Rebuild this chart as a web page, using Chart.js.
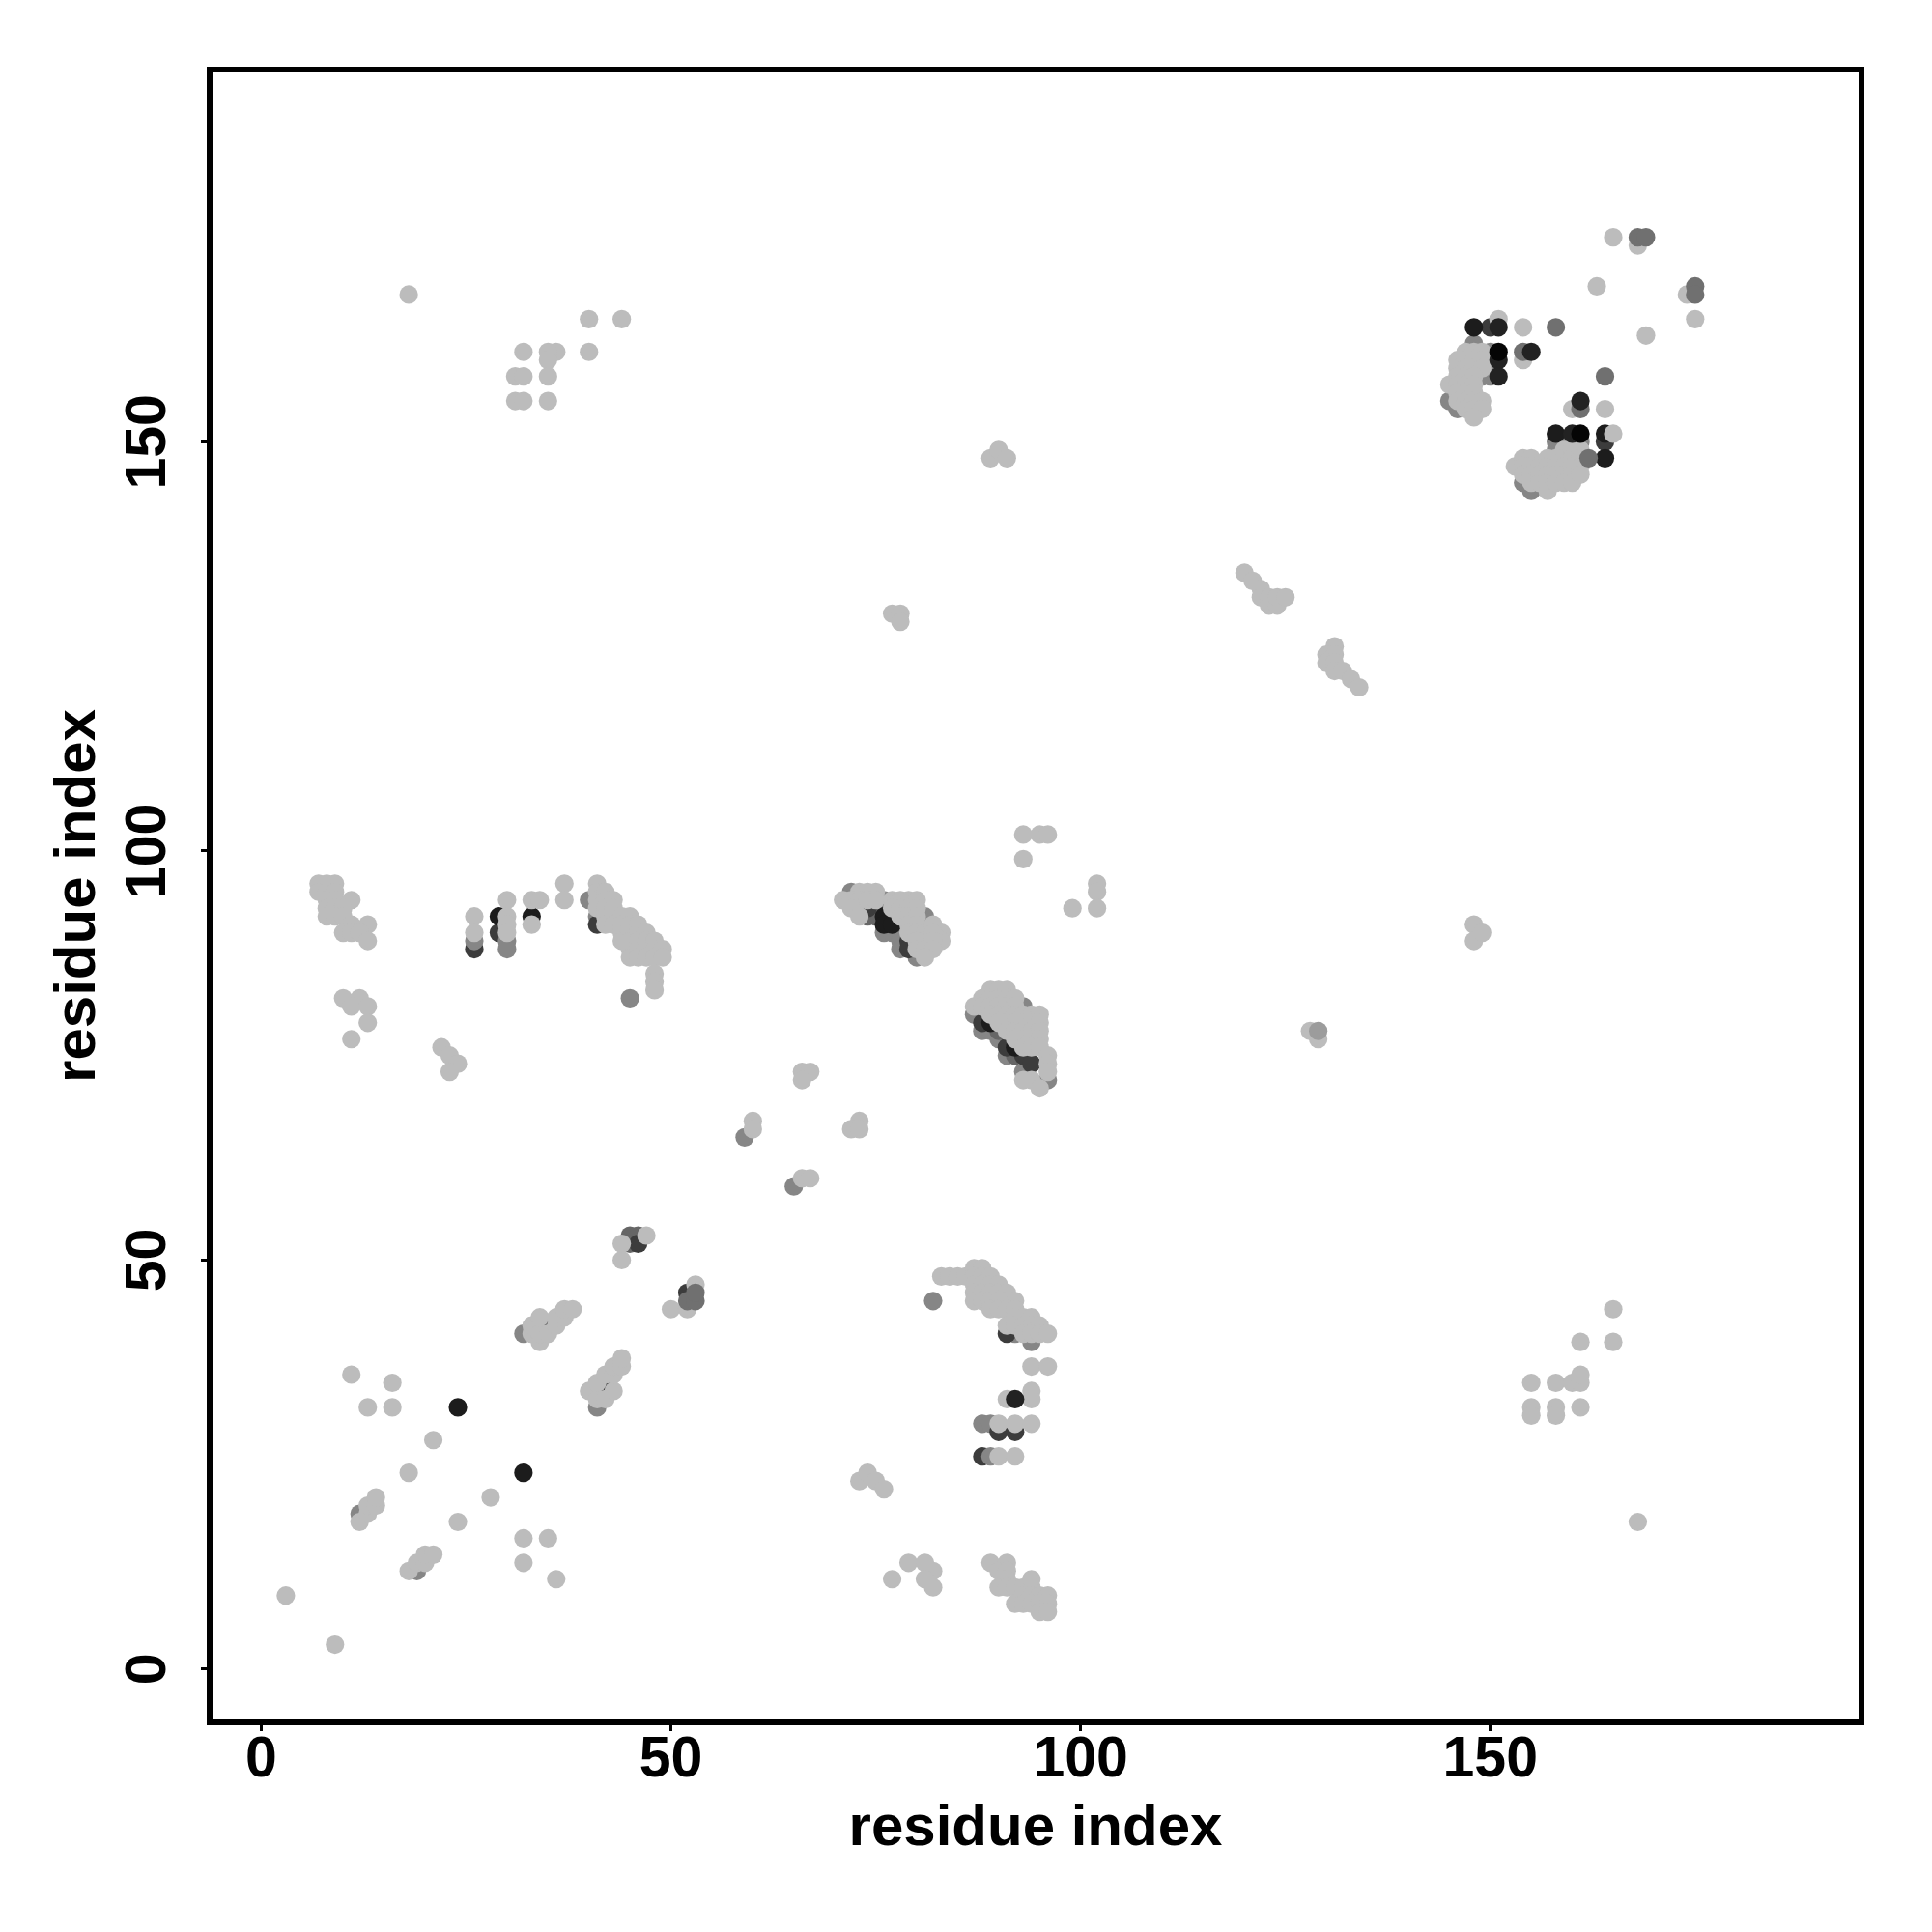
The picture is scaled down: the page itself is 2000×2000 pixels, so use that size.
<!DOCTYPE html>
<html>
<head>
<meta charset="utf-8">
<style>body{margin:0;background:#fff}</style>
<script src="https://cdn.jsdelivr.net/npm/chart.js@4"></script>
</head>
<body>
<canvas id="myChart" width="2000" height="2000"></canvas>
<script>
// contact map as [residue, residue], one list per grey tone
let tickValues = [0, 50, 100, 150];
let axisTitle = "residue index";

let underDarkPts = [[26,88],[88,26],[29,90]];
let grayPts = [[12,19],[19,12],[32,41],[41,32],[26,89],[30,89],[30,88],[40,94],[41,92],[45,82],[59,65],[65,59],[82,45],[92,41],[94,40],[88,30],[89,30],[89,26],[72,95],[76,94],[81,92],[80,87],[76,90],[77,90],[78,89],[78,88],[93,81],[87,80],[88,78],[89,78],[90,77],[91,75],[93,73],[96,72],[145,155],[146,154],[148,162],[150,161],[150,160],[149,158],[150,158],[154,145],[155,144],[158,150],[159,150],[161,150],[158,149]];
let darkGrayPts = [[45,53],[46,53],[45,52],[74,92],[75,93],[75,92],[90,78],[92,75]];
let darkPts = [[41,91],[35,42],[42,35],[46,52],[52,46],[91,41],[90,29],[92,29],[150,164],[164,150],[79,89],[79,88],[74,93],[88,79],[91,76],[93,75],[94,74]];
let blackPts = [[24,32],[32,24],[29,92],[33,92],[148,164],[158,151],[164,151],[164,148],[76,92],[76,91],[77,91],[89,79],[92,76]];

let lightPts = [
  [3,9],[9,3],[11,36],[16,35],[13,32],[16,32],[21,28],[18,24],[28,21],[24,18],[32,16],[35,16],[32,13],[36,11],
  [12,18],[13,19],[13,20],[14,20],[14,21],[18,12],[19,13],[20,13],[20,14],[21,14],
  [33,41],[33,42],[34,40],[34,41],[34,43],[35,41],[36,42],[36,43],[37,43],[37,44],[38,44],
  [40,34],[41,33],[41,35],[42,33],[42,36],[43,34],[43,36],[43,37],[44,37],[44,38],
  [44,50],[44,52],[47,53],[50,44],[52,44],[53,47],
  [77,11],[79,13],[81,13],[82,12],[81,11],[82,10],[73,23],[74,24],[75,23],[76,22],
  [83,48],[84,48],[85,48],[86,48],[87,49],[88,49],[87,48],[88,48],[89,48],[87,47],[88,47],[89,47],[90,47],
  [87,46],[88,46],[89,46],[90,46],[91,46],[87,45],[88,45],[89,45],[90,45],[91,45],[92,45],[89,44],[90,44],[91,44],[92,44],
  [92,43],[93,43],[94,43],[91,42],[92,42],[93,42],[94,42],[95,42],[93,41],[94,41],[95,41],[96,41],
  [94,37],[96,37],[94,34],[94,33],[91,33],[90,30],[92,30],[94,30],[90,26],[92,26],
  [89,13],[91,13],[90,12],[91,12],[91,11],[90,10],[91,10],[92,10],[93,10],[94,10],[94,11],[93,9],[94,9],[95,9],[96,9],
  [92,8],[93,8],[94,8],[95,8],[96,8],[95,7],[96,7],
  [155,35],[158,35],[160,35],[161,35],[161,36],[155,32],[155,31],[158,32],[158,31],[161,32],[161,40],[165,40],[165,44],[168,18],
  [7,96],[8,96],[9,96],[7,95],[8,95],[9,95],[8,94],[9,94],[11,94],[8,93],[9,93],[10,93],[8,92],[9,92],[10,92],[11,91],[13,91],[10,90],[11,90],[12,90],[13,89],
  [10,82],[12,82],[11,81],[13,81],[13,79],[11,77],[22,76],[23,75],[24,74],[23,73],
  [26,92],[26,90],[30,94],[30,92],[30,91],[30,90],[33,94],[34,94],[33,91],[37,96],[37,94],
  [41,96],[41,95],[41,94],[41,93],[42,95],[42,94],[42,93],[42,92],[42,91],[43,94],[43,93],[43,92],[43,91],
  [44,92],[44,91],[44,90],[44,89],[45,92],[45,91],[45,90],[45,89],[45,88],[45,87],[46,91],[46,90],[46,89],[46,88],[46,87],
  [47,90],[47,89],[47,88],[47,87],[48,89],[48,88],[48,87],[49,88],[49,87],[48,85],[48,84],[48,83],
  [60,67],[60,66],[66,73],[67,73],[66,72],[73,67],[72,66],[73,66],[66,60],[67,60],
  [71,94],[73,95],[74,95],[75,95],[72,94],[73,94],[72,93],[73,92],[74,94],[75,94],
  [77,94],[78,94],[79,94],[80,94],[77,93],[78,93],[79,93],[80,93],[78,92],[79,92],[80,92],[79,91],[80,91],
  [79,90],[80,90],[81,90],[80,89],[81,89],[80,88],[81,88],[82,91],[83,90],[83,89],[82,90],[82,89],[82,88],[81,87],
  [87,81],[88,82],[88,81],[89,83],[89,82],[89,81],[90,83],[90,82],[90,81],[91,83],[91,82],[91,81],[92,82],[92,81],
  [89,80],[90,80],[91,80],[92,80],[93,80],[94,80],[95,80],[90,79],[91,79],[92,79],[93,79],[94,79],[95,79],
  [91,78],[92,78],[93,78],[94,78],[95,78],[92,77],[93,77],[94,77],[95,77],[93,76],[94,76],[95,76],[96,75],[96,74],[96,73],[94,72],[95,71],[93,72],
  [18,168],[32,161],[36,161],[35,161],[35,160],[31,158],[32,158],[35,158],[31,155],[32,155],[35,155],[40,161],[40,165],[44,165],
  [89,148],[90,149],[91,148],[120,134],[121,133],[122,132],[122,131],[123,131],[123,130],[124,130],[124,131],[125,131],
  [77,129],[78,129],[78,128],[131,125],[130,124],[131,124],[130,123],[131,123],[131,122],[132,122],[133,121],[134,120],
  [93,102],[95,102],[96,102],[93,99],[102,96],[102,95],[102,93],[99,93],[148,91],[148,89],[149,90],[128,78],[129,77],
  [165,175],[168,174],[163,169],[174,168],[175,165],[169,163],[160,154],[164,154],[151,165],[154,164],[154,160],[165,151],
  [147,161],[148,161],[149,161],[146,160],[147,160],[148,160],[149,160],[146,159],[147,159],[148,159],[149,159],
  [146,158],[147,158],[148,158],[145,157],[146,157],[147,157],[148,157],[146,156],[147,156],[148,156],
  [146,155],[147,155],[148,155],[149,155],[147,154],[148,154],[149,154],[148,153],
  [153,147],[154,148],[155,148],[154,147],[155,147],[154,146],[155,146],[155,145],[156,147],[156,146],[156,145],
  [157,148],[157,147],[157,146],[157,145],[157,144],[158,148],[158,147],[158,146],[158,145],
  [159,149],[159,148],[159,147],[159,146],[159,145],[160,149],[160,148],[160,147],[160,146],[160,145],
  [161,149],[161,148],[161,147],[161,146]
];

// these sit over the light ones in the original
let topMidPts = [[129,78]];
let topGrayPts = [[168,175],[169,175],[175,169],[175,168],[158,164],[164,158],[154,161],[161,154],[162,148],[52,45],[53,45],[53,46]];
let topDarkPts = [[92,33],[151,164],[151,160],[151,158],[155,161],[161,155],[160,151]];
let topBlackPts = [[151,161],[161,151]];

// bottom to top
let layers = [
  [underDarkPts, "#3c3c3c"],
  [grayPts, "#868686"],
  [darkGrayPts, "#666666"],
  [darkPts, "#3c3c3c"],
  [blackPts, "#1c1c1c"],
  [lightPts, "#bcbcbc"],
  [topMidPts, "#9c9c9c"],
  [topGrayPts, "#707070"],
  [topDarkPts, "#222222"],
  [topBlackPts, "#050505"]
];

let fontFam = '"Liberation Sans", Arial, sans-serif';

// box round the plot, R style
const boxPlugin = {
  id: "box",
  afterDraw(chart) {
    let a = chart.chartArea;
    let c = chart.ctx;
    c.save();
    c.strokeStyle = "#000";
    c.lineWidth = 6;
    c.strokeRect(a.left, a.top, a.right - a.left, a.bottom - a.top);
    c.restore();
  }
};

new Chart(document.getElementById("myChart").getContext("2d"), {
  type: "scatter",
  data: {
    datasets: layers.map((l, i) => ({
      data: l[0],
      order: layers.length - i,
      pointRadius: 9.6,
      pointBorderWidth: 0,
      pointBackgroundColor: l[1]
    }))
  },
  plugins: [boxPlugin],
  options: {
    responsive: false,
    animation: false,
    layout: { padding: { top: 72, right: 73, left: 0, bottom: 0 } },
    plugins: { legend: { display: false }, tooltip: { enabled: false } },
    scales: {
      x: {
        type: "linear",
        min: -6.3,
        max: 195.3,
        afterFit(s) { s.height = 217; },
        afterBuildTicks(s) { s.ticks = tickValues.map(v => ({ value: v })); },
        border: { display: false },
        grid: { drawOnChartArea: false, tickLength: 9, tickWidth: 3, tickColor: "#000" },
        ticks: { color: "#000", padding: -5, maxRotation: 0, autoSkip: false, font: { family: fontFam, weight: "bold", size: 59 } },
        title: { display: true, text: axisTitle, color: "#000", padding: { top: 0, bottom: 71 }, font: { family: fontFam, weight: "bold", size: 60 } }
      },
      y: {
        type: "linear",
        min: -6.5,
        max: 195.5,
        afterFit(s) { s.width = 217; },
        afterBuildTicks(s) { s.ticks = tickValues.map(v => ({ value: v })); },
        border: { display: false },
        grid: { drawOnChartArea: false, tickLength: 9, tickWidth: 3, tickColor: "#000" },
        ticks: { color: "#000", padding: 4, minRotation: 90, maxRotation: 90, crossAlign: "center", autoSkip: false, font: { family: fontFam, weight: "bold", size: 59 } },
        title: { display: true, text: axisTitle, color: "#000", padding: { top: 45, bottom: 0 }, font: { family: fontFam, weight: "bold", size: 60 } }
      }
    }
  }
});
</script>
</body>
</html>
